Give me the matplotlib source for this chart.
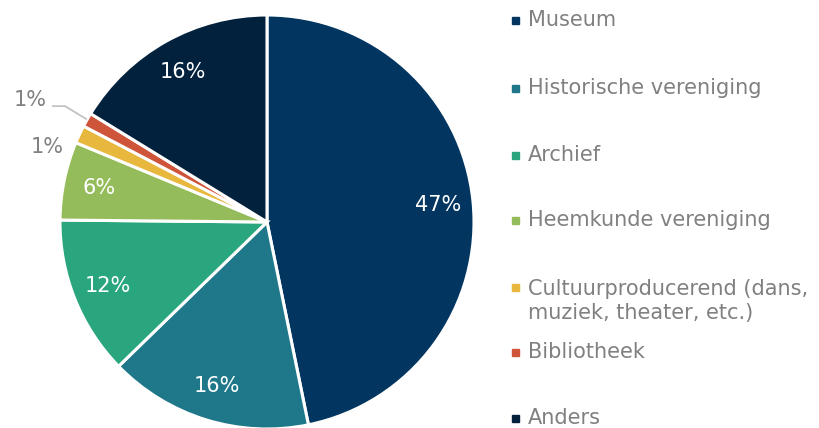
import numpy as np
import matplotlib.pyplot as plt
from matplotlib.patches import Rectangle

categories = ["Museum", "Historische vereniging", "Archief", "Heemkunde vereniging",
              "Cultuurproducerend (dans,\nmuziek, theater, etc.)", "Bibliotheek", "Anders"]
values = [46.7, 15.9, 12.4, 6.1, 1.4, 1.1, 16.2]
pct_labels = ["47%", "16%", "12%", "6%", "1%", "1%", "16%"]
colors = ["#023661", "#1e7889", "#29a67e", "#95bc5b", "#e8b73d", "#cf553a", "#02213d"]

gray = "#808080"
fs = 15

W, H = 819, 428
fig = plt.figure(figsize=(W / 100, H / 100), dpi=100)

# pie axes: centre (267, 222), radius 207 px
cx, cy, r = 267, 222, 207
ax = fig.add_axes([(cx - r) / W, (H - cy - r) / H, 2 * r / W, 2 * r / H])
wedges, _ = ax.pie(values, colors=colors, startangle=90, counterclock=False,
                   radius=1, wedgeprops=dict(edgecolor="white", linewidth=2.2))
ax.set_xlim(-1, 1)
ax.set_ylim(-1, 1)
ax.set_aspect("equal")
ax.axis("off")

for i, (w, lab) in enumerate(zip(wedges, pct_labels)):
    if i in (4, 5):
        continue
    mid = np.deg2rad((w.theta1 + w.theta2) / 2)
    d = 0.83
    ax.text(d * np.cos(mid), d * np.sin(mid), lab, ha="center", va="center",
            color="white", fontsize=fs)

# small slices: labels outside
ax.text(-1.063, 0.362, pct_labels[4], ha="center", va="center", color=gray, fontsize=fs)
ax.plot([-1.034, -0.976, -0.874], [0.560, 0.560, 0.498], color="#bfbfbf", lw=1.2,
        clip_on=False)
ax.text(-1.145, 0.589, pct_labels[5], ha="center", va="center", color=gray, fontsize=fs)

# legend, drawn by hand to mimic the original spacing
leg_y = [20, 88, 155, 220, 287, 352, 418]
for lab, col, y in zip(categories, colors, leg_y):
    fig.patches.append(Rectangle((512 / W, (H - y - 3.5) / H), 7 / W, 7 / H,
                                 transform=fig.transFigure, color=col))
    ty = y + 14 * lab.count("\n")
    fig.text(528 / W, (H - ty) / H, lab, color=gray, fontsize=fs, va="center",
             linespacing=1.3)

fig.savefig("out.png", dpi=100)
